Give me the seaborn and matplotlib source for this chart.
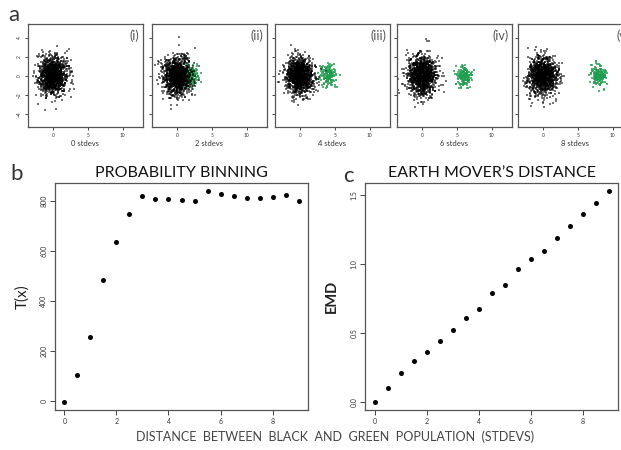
import numpy as np
import pandas as pd
import matplotlib
matplotlib.use("Agg")
import matplotlib.pyplot as plt
import seaborn as sns

# ---------------- data ----------------
# panel a: population descriptions
shift_stdevs = [0, 2, 4, 6, 8]
panel_tags = ["(i)", "(ii)", "(iii)", "(iv)", "(v)"]
shift_labels = ["0 stdevs", "2 stdevs", "4 stdevs", "6 stdevs", "8 stdevs"]
black_n = 1200
black_sd = 1.0
green_n = 170
green_sd = 0.55
scatter_xticks = [0, 5, 10]
scatter_yticks = [-4, -2, 0, 2, 4]

# panels b & c
distance = [0, 0.5, 1, 1.5, 2, 2.5, 3, 3.5, 4, 4.5, 5, 5.5, 6, 6.5, 7, 7.5, 8, 8.5, 9]
prob_binning = [-5, 101, 255, 482, 635, 747, 821, 807, 807, 804, 801, 839, 828,
                819, 812, 810, 814, 824, 800]
emd = [0.0, 0.10, 0.205, 0.294, 0.36, 0.44, 0.52, 0.61, 0.674, 0.787, 0.85,
       0.961, 1.04, 1.096, 1.19, 1.275, 1.365, 1.442, 1.529]
b_yticks = [0, 200, 400, 600, 800]
c_yticks = [0.0, 0.5, 1.0, 1.5]
bc_xticks = [0, 2, 4, 6, 8]

# ---------------- style ----------------
sns.set_style("white")
plt.rcParams["font.family"] = ["Lato", "DejaVu Sans"]

W, H = 621, 450
fig = plt.figure(figsize=(W / 100, H / 100), dpi=100)


def rect(l, t, r, b):
    return [l / W, 1 - b / H, (r - l) / W, (b - t) / H]


FRAME = "#555555"
TICKC = "#444444"
GREEN = "#1e9e4e"


def style_axes(ax, tick_fs, ticklen):
    for s in ax.spines.values():
        s.set_color(FRAME)
        s.set_linewidth(0.9)
        s.set_visible(True)
    ax.tick_params(axis="both", direction="out", length=ticklen, width=0.7,
                   color=TICKC, labelsize=tick_fs, labelcolor="#333333", pad=2,
                   left=True, bottom=True)
    for lab in ax.get_yticklabels():
        lab.set_rotation(90)
        lab.set_va("center")
    ax.set_xlabel("")
    ax.set_ylabel("")


# ---------------- panel a ----------------
rng = np.random.default_rng(7)
lefts = [28, 152, 275, 397, 518]
for i, (shift, tag, lab, l) in enumerate(zip(shift_stdevs, panel_tags, shift_labels, lefts)):
    ax = fig.add_axes(rect(l, 24, l + 115, 127))
    gx = rng.normal(shift, green_sd, green_n)
    gy = rng.normal(0, green_sd, green_n)
    bx = rng.normal(0, black_sd, black_n)
    by = rng.normal(0, black_sd, black_n)
    dfg = pd.DataFrame({"x": gx, "y": gy})
    dfb = pd.DataFrame({"x": bx, "y": by})
    sns.scatterplot(data=dfg, x="x", y="y", ax=ax, color=GREEN, s=0.9,
                    marker="s", linewidth=0, alpha=0.75)
    sns.scatterplot(data=dfb, x="x", y="y", ax=ax, color="black", s=0.9,
                    marker="s", linewidth=0, alpha=0.55)
    ax.set_xlim(-3.6, 12.9)
    ax.set_ylim(-5.4, 5.45)
    ax.set_xticks(scatter_xticks)
    ax.set_yticks(scatter_yticks)
    style_axes(ax, 3.5, 2.5)
    if i != 0:
        ax.set_yticklabels([])
    ax.text(0.97, 0.95, tag, transform=ax.transAxes, ha="right", va="top",
            fontsize=9, color="#555555")
    fig.text((l + 57) / W, 1 - 143 / H, lab, ha="center", va="center",
             fontsize=5.5, color="#333333")

fig.text(8 / W, 1 - 15 / H, "a", fontsize=16, color="#333333",
         ha="left", va="center")

# ---------------- panel b ----------------
axb = fig.add_axes(rect(55, 183, 308, 410))
dfb2 = pd.DataFrame({"d": distance, "t": prob_binning})
sns.scatterplot(data=dfb2, x="d", y="t", ax=axb, color="black", s=13, linewidth=0)
axb.set_xlim(-0.36, 9.36)
axb.set_ylim(-38, 872)
axb.set_xticks(bc_xticks)
axb.set_yticks(b_yticks)
style_axes(axb, 5, 3.5)
axb.set_title("PROBABILITY BINNING", fontsize=11.5, color="#111111", pad=4)
axb.set_ylabel("T(x)", fontsize=11, color="#222222", labelpad=8)
fig.text(10 / W, 1 - 174 / H, "b", fontsize=16, color="#333333",
         ha="left", va="center")

# ---------------- panel c ----------------
axc = fig.add_axes(rect(365, 183, 618, 410))
dfc = pd.DataFrame({"d": distance, "e": emd})
sns.scatterplot(data=dfc, x="d", y="e", ax=axc, color="black", s=13, linewidth=0)
axc.set_xlim(-0.37, 9.36)
axc.set_ylim(-0.061, 1.59)
axc.set_xticks(bc_xticks)
axc.set_yticks(c_yticks)
style_axes(axc, 5, 3.5)
axc.set_title("EARTH MOVER\u2019S DISTANCE", fontsize=11.5, color="#111111", pad=4)
axc.set_ylabel("EMD", fontsize=10.5, color="#222222", labelpad=8, fontweight="bold")
fig.text(343 / W, 1 - 176 / H, "c", fontsize=16, color="#333333",
         ha="left", va="center")

# shared x label
fig.text(335 / W, 1 - 437 / H,
         "DISTANCE  BETWEEN  BLACK  AND  GREEN  POPULATION  (STDEVS)",
         ha="center", va="center", fontsize=9, color="#444444")

fig.savefig("out.png", dpi=100)
